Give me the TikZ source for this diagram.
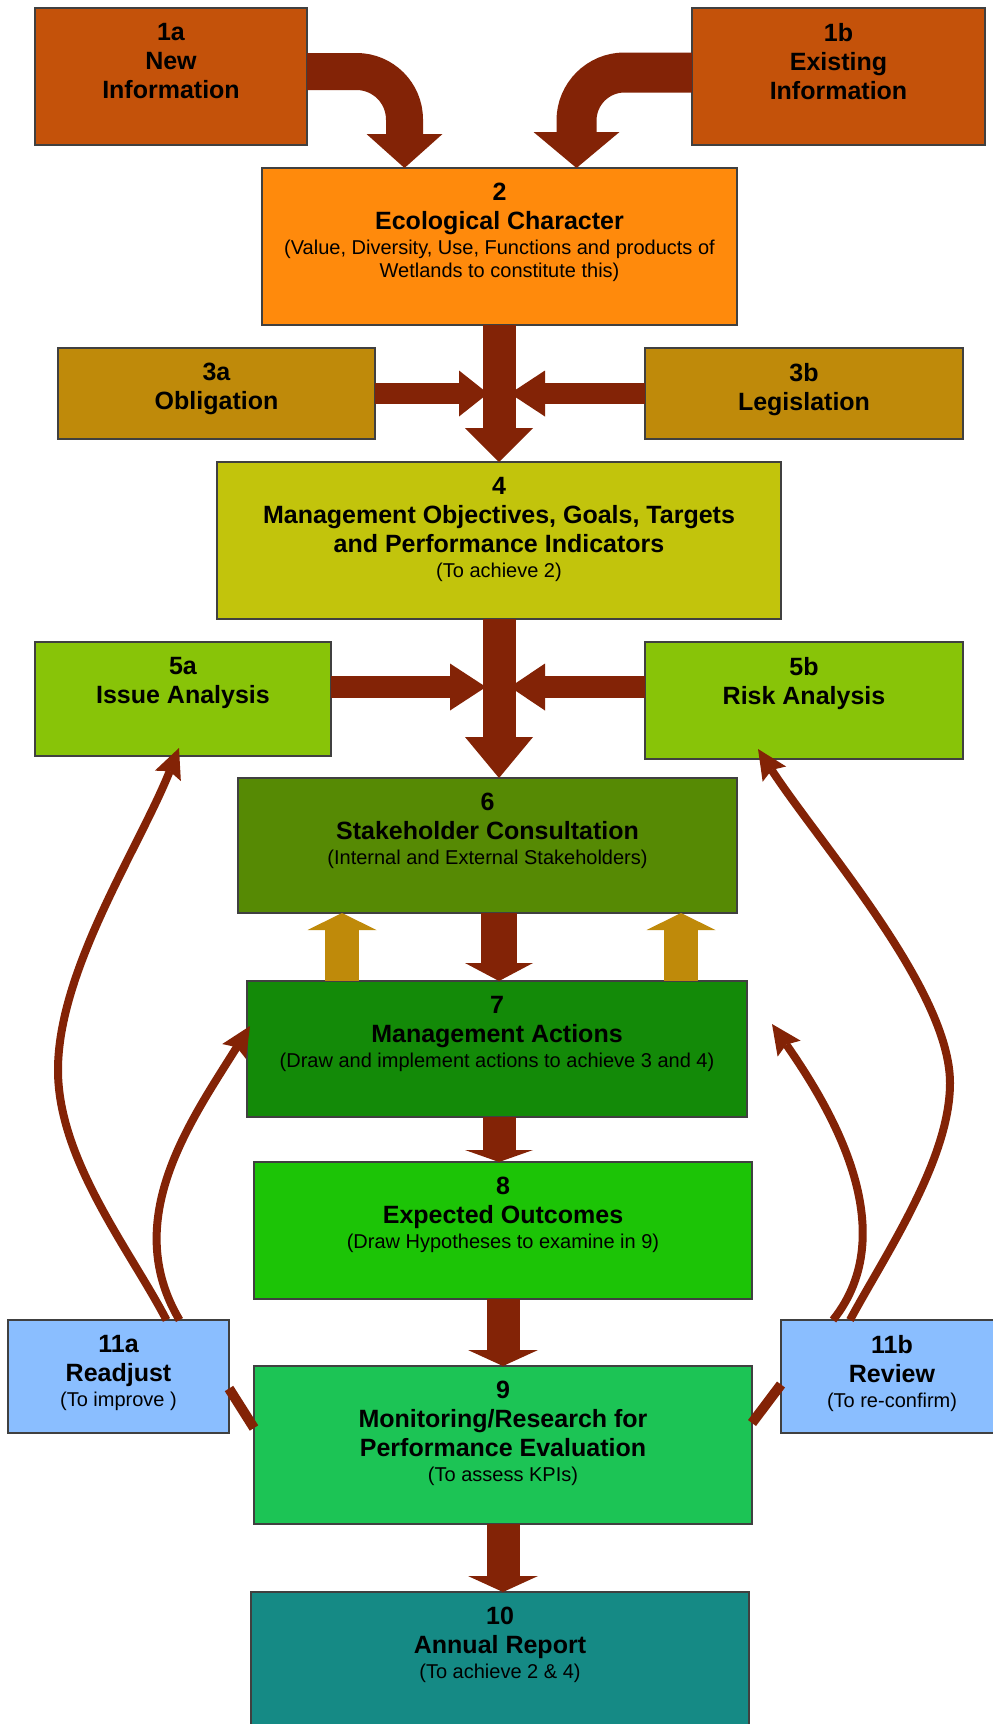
\documentclass[tikz,border=0pt]{standalone}
\usepackage{fontspec}
\setmainfont{Liberation Sans}
\usetikzlibrary{positioning, calc, arrows.meta}

\definecolor{info}{HTML}{C4520A}
\definecolor{ecochar}{HTML}{FF8A0C}
\definecolor{legal}{HTML}{BF8A0A}
\definecolor{goals}{HTML}{C2C40C}
\definecolor{analysis}{HTML}{88C408}
\definecolor{consult}{HTML}{568A04}
\definecolor{action}{HTML}{138A08}
\definecolor{outcome}{HTML}{1CC406}
\definecolor{monitor}{HTML}{1CC455}
\definecolor{report}{HTML}{158A85}
\definecolor{review}{HTML}{8ABEFF}
\definecolor{flowbrown}{HTML}{832306}

\newcommand{\note}[1]{{\fontsize{20pt}{23pt}\selectfont\mdseries #1}}

\tikzset{
  box/.style={draw=black!75, line width=1.2pt, anchor=north west, inner sep=0pt, outer sep=0pt},
  boxtext/.style={align=center, inner sep=0pt, font=\fontsize{25pt}{29pt}\selectfont\bfseries},
  flow/.style n args={3}{draw=flowbrown, line width=#1pt, -{Triangle[width=#2pt, length=#3pt, line width=0pt]}},
  feedback/.style={draw=flowbrown, line width=8pt, -{Stealth[width=28pt, length=30pt, inset=5pt, line width=0pt]}},
  link/.style={draw=flowbrown, line width=10pt}
}

\begin{document}
\begin{tikzpicture}[x=1pt, y=-1pt]
\useasboundingbox (0,0) rectangle (993,1724);
\fill[white] (0,0) rectangle (993,1724);

% boxes
\node[box, fill=info, minimum width=272pt, minimum height=137pt] (b1a) at (35,8) {};
\node[box, fill=info, minimum width=293pt, minimum height=137pt] (b1b) at (692,8) {};
\node[box, fill=ecochar, minimum width=475pt, minimum height=157pt] (b2) at (262,168) {};
\node[box, fill=legal, minimum width=317pt, minimum height=91pt] (b3a) at (58,348) {};
\node[box, fill=legal, minimum width=318pt, minimum height=91pt] (b3b) at (645,348) {};
\node[box, fill=goals, minimum width=564pt, minimum height=157pt] (b4) at (217,462) {};
\node[box, fill=analysis, minimum width=296pt, minimum height=114pt] (b5a) at (35,642) {};
\node[box, fill=analysis, minimum width=318pt, minimum height=117pt] (b5b) at (645,642) {};
\node[box, fill=consult, minimum width=499pt, minimum height=135pt] (b6) at (238,778) {};
\node[box, fill=action, minimum width=500pt, minimum height=136pt] (b7) at (247,981) {};
\node[box, fill=outcome, minimum width=498pt, minimum height=137pt] (b8) at (254,1162) {};
\node[box, fill=monitor, minimum width=498pt, minimum height=158pt] (b9) at (254,1366) {};
\node[box, fill=report, minimum width=498pt, minimum height=158pt] (b10) at (251,1592) {};
\node[box, fill=review, minimum width=221pt, minimum height=113pt] (b11a) at (8,1320) {};
\node[box, fill=review, minimum width=222pt, minimum height=113pt] (b11b) at (781,1320) {};

% texts
\node[boxtext, below=15pt of b1a.north] (t1a) {1a\\New\\Information};
\node[boxtext, below=15pt of b1b.north] (t1b) {1b\\Existing\\Information};
\node[boxtext, below=15pt of b2.north] (t2) {2\\Ecological Character\\[-4pt]
  \note{(Value, Diversity, Use, Functions and products of}\\[-6pt]
  \note{Wetlands to constitute this)}};
\node[boxtext, below=15pt of b3a.north] (t3a) {3a\\Obligation};
\node[boxtext, below=15pt of b3b.north] (t3b) {3b\\Legislation};
\node[boxtext, below=15pt of b4.north] (t4) {4\\Management Objectives, Goals, Targets\\
  and Performance Indicators\\[-4pt] \note{(To achieve 2)}};
\node[boxtext, below=15pt of b5a.north] (t5a) {5a\\Issue Analysis};
\node[boxtext, below=15pt of b5b.north] (t5b) {5b\\Risk Analysis};
\node[boxtext, below=15pt of b6.north] (t6) {6\\Stakeholder Consultation\\[-4pt]
  \note{(Internal and External Stakeholders)}};
\node[boxtext, below=15pt of b7.north] (t7) {7\\Management Actions\\[-4pt]
  \note{(Draw and implement actions to achieve 3 and 4)}};
\node[boxtext, below=15pt of b8.north] (t8) {8\\Expected Outcomes\\[-4pt]
  \note{(Draw Hypotheses to examine in 9)}};
\node[boxtext, below=15pt of b9.north] (t9) {9\\Monitoring/Research for\\
  Performance Evaluation\\[-4pt] \note{(To assess KPIs)}};
\node[boxtext, below=15pt of b10.north] (t10) {10\\Annual Report\\[-4pt]
  \note{(To achieve 2 \& 4)}};
\node[boxtext, below=15pt of b11a.north] (t11a) {11a\\Readjust\\[-4pt]
  \note{(To improve )}};
\node[boxtext, below=15pt of b11b.north] (t11b) {11b\\Review\\[-4pt]
  \note{(To re-confirm)}};

% main flow
\coordinate (spine) at (499,0);
\coordinate (mid5) at (499,687);
\draw[flow={37}{76}{34}, rounded corners=48pt] ([shift={(0,-5)}]b1a.east) -| ($(b2.north)+(-95,0)$);
\draw[flow={40}{86}{36}, rounded corners=48pt] ([shift={(0,-4)}]b1b.west) -| ($(b2.north)+(77,0)$);
\draw[flow={33}{68}{34}] (spine |- b2.south) -- (spine |- b4.north);
\draw[flow={21}{46}{29}] (b3a.east) -- ($(spine |- b3a.east)+(-11,0)$);
\draw[flow={21}{46}{35}] (b3b.west) -- ($(spine |- b3b.west)+(11,0)$);
\draw[flow={33}{68}{41}] (spine |- b4.south) -- (spine |- b6.north);
\draw[flow={22}{47}{36}] (b5a.east |- mid5) -- ($(mid5)+(-13,0)$);
\draw[flow={22}{47}{35}] (b5b.west |- mid5) -- ($(mid5)+(11,0)$);
\draw[flow={36}{68}{18}] (spine |- b6.south) -- (spine |- b7.north);
\draw[flow={33}{68}{12}] (spine |- b7.south) -- (spine |- b8.north);
\draw[flow={33}{70}{16}] (b8.south) -- (b9.north);
\draw[flow={33}{70}{16}] (b9.south) -- (b9.south |- b10.north);

% consultation feeds
\foreach \dx in {-157,182} {
  \draw[flow={34}{69}{17}, draw=legal] ($(spine |- b7.north)+(\dx,0)$) -- ($(spine |- b6.south)+(\dx,0)$);
}

% feedback loops
\draw[link] ([shift={(0,-17)}]b9.west) -- ([shift={(0,12)}]b11a.east);
\draw[link] ([shift={(0,-22)}]b9.east) -- ([shift={(0,8)}]b11b.west);
\draw[feedback] ([shift={(48,0)}]b11a.north) .. controls (130,1250) and (58,1160) .. (58,1070)
  .. controls (58,970) and (139,848) .. ([shift={(-4,-8)}]b5a.south);
\draw[feedback] ([shift={(61,0)}]b11a.north) .. controls (120,1220) and (190,1122) .. ([shift={(3,-23)}]b7.west);
\draw[feedback] ([shift={(-42,0)}]b11b.north) .. controls (885,1255) and (950,1160) .. (950,1083)
  .. controls (950,990) and (820,844) .. ([shift={(-46,-10)}]b5b.south);
\draw[feedback] ([shift={(-59,0)}]b11b.north) .. controls (905,1230) and (829,1106) .. ([shift={(25,-25)}]b7.east);
\end{tikzpicture}
\end{document}
